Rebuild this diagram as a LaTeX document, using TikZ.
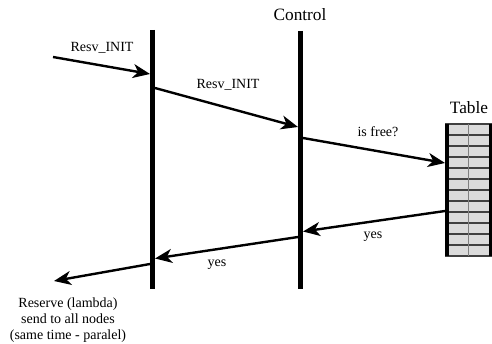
\documentclass[tikz,border=0pt]{standalone}
\usepackage{fontspec}
\setmainfont{Liberation Serif}
\usetikzlibrary{arrows.meta}
\tikzstyle{lifeline}=[line width=4.8pt]
\tikzstyle{message}=[line width=2.4pt,-{Stealth[length=17pt,width=14pt,inset=5pt]}]
\tikzstyle{msglabel}=[font=\fontsize{14}{16}\selectfont,inner sep=0]
\tikzstyle{title}=[font=\fontsize{17.3}{19}\selectfont,inner sep=0]
\tikzstyle{tablebox}=[rectangle,fill=black!14,minimum width=47pt,minimum height=132pt,inner sep=0]

\begin{document}
\begin{tikzpicture}[x=1pt,y=-1pt]
        \useasboundingbox (0,0) rectangle (492,344);
        % titles
        \node[title] (control) at (300,15) {Control};
        \node[title] (tabname) at (469,108) {Table};

        % lifelines
        \coordinate (sndtop) at (152.5,30);
        \coordinate (sndbot) at (152.5,289);
        \coordinate (ctltop) at (300.5,31);
        \coordinate (ctlbot) at (300.5,289);
        \draw[lifeline] (sndtop) -- (sndbot);
        \draw[lifeline] (ctltop) -- (ctlbot);

        % table
        \node[tablebox,anchor=north west] (table) at (445,124) {};
        \foreach \r in {0,...,12}
            \draw[black!75,line width=1.6pt] ([yshift=-11*\r pt]table.north west) -- ([yshift=-11*\r pt]table.north east);
        \draw[black!50,line width=1.2pt] (table.north) -- (table.south);
        \draw[line width=3.6pt] ([xshift=1.8pt]table.north west) -- ([xshift=1.8pt]table.south west);
        \draw[line width=3.6pt] ([xshift=-1.8pt]table.north east) -- ([xshift=-1.8pt]table.south east);

        % message end points
        \coordinate (in)   at (53,57);
        \coordinate (s1)   at (150,74);
        \coordinate (s2)   at (155,88);
        \coordinate (c1)   at (298,127);
        \coordinate (c2)   at (303,138);
        \coordinate (t1)   at (445,163);
        \coordinate (t2)   at (445,211);
        \coordinate (c3)   at (303,231.5);
        \coordinate (c4)   at (298,237);
        \coordinate (s3)   at (155,258.5);
        \coordinate (s4)   at (150,264);
        \coordinate (out)  at (54,281);

        % messages
        \draw[message] (in) -- (s1);
        \draw[message] (s2) -- (c1);
        \draw[message] (c2) -- (t1);
        \draw[message] (t2) -- (c3);
        \draw[message] (c4) -- (s3);
        \draw[message] (s4) -- (out);

        % labels
        \node[msglabel] (init1) at (102,48) {Resv\_INIT};
        \node[msglabel] (init2) at (228,85) {Resv\_INIT};
        \node[msglabel] (isfree) at (378,132) {is free?};
        \node[msglabel] (yes1) at (373,237) {yes};
        \node[msglabel] (yes2) at (217,265) {yes};
        \node[msglabel,align=center] (reserve) at (68,320)
            {Reserve (lambda)\\send to all nodes\\(same time - paralel)};
    \end{tikzpicture}
\end{document}
